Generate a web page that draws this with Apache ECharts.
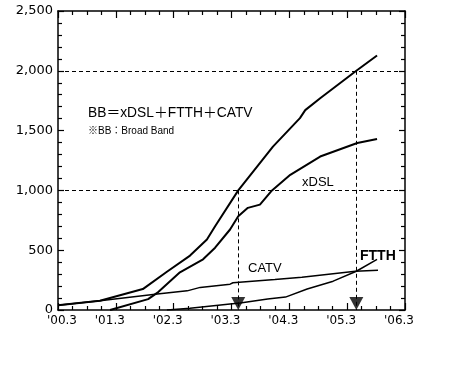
<!DOCTYPE html>
<html>
<head>
<meta charset="utf-8">
<script src="https://cdn.jsdelivr.net/npm/echarts@6/dist/echarts.min.js"></script>
<style>
html,body{margin:0;padding:0;background:#fff;}
#chart{width:450px;height:367px;}
</style>
</head>
<body>
<div id="chart"></div>
<script>
// x values are months counted from March 2000 ('00.3 = 0)
const xTickLabels = ["'00.3", "'01.3", "'02.3", "'03.3", "'04.3", "'05.3", "'06.3"];
const yTickLabels = ["0", "500", "1,000", "1,500", "2,000", "2,500"];

const bbMonths   = [0, 8.7, 17.6, 22.6, 27.4, 30.9, 32.6, 37.4, 44.6, 50.2, 51.3, 54.4, 61.9, 66.2];
const bbValues   = [40, 77, 175, 320, 455, 590, 700, 1000, 1366, 1604, 1671, 1770, 2000, 2128];

const xdslMonths = [10.8, 18.7, 20.8, 25.3, 30.1, 32.6, 35.7, 37.4, 39.4, 41.9, 44.4, 48.2, 54.4, 62.1, 66.2];
const xdslValues = [0, 91, 150, 315, 424, 521, 673, 784, 854, 881, 1000, 1130, 1283, 1396, 1430];

const catvMonths = [0, 8.7, 20.6, 26.8, 29.5, 35.7, 36.3, 45, 50.6, 61.7, 66.4];
const catvValues = [40, 77, 133, 160, 189, 216, 228, 255, 274, 324, 332];

const ftthMonths = [22.6, 27.4, 35.7, 37.8, 43.5, 47.2, 51.7, 57.1, 61.9, 66.2];
const ftthValues = [0, 14, 50, 58, 92, 108, 175, 241, 324, 424];

// milestone markers (BB reaching 1,000 and 2,000)
const milestoneMonths = [37.4, 61.9];
const milestoneLevels = [1000, 2000];
const markerValue = 55;

const guideLevels = [1000, 2000];

function pairs(xs, ys){ return xs.map((x,i)=>[x, ys[i]]); }

const FONT = "'Liberation Sans', 'Noto Sans CJK JP', Arial, sans-serif";
const TICKFONT = "'DejaVu Sans', sans-serif";
const chart = echarts.init(document.getElementById('chart'), null, {renderer:'canvas'});

const axisLineStyle = {color:'#000', width:1.5};
const tickStyle = {color:'#000', width:1.2};

function xAxisCfg(pos, showLabel){
  return {
    type:'value', position:pos, min:0, max:72, interval:12,
    axisLine:{show:true, onZero:false, lineStyle:axisLineStyle},
    axisTick:{show:true, inside:true, length:7, lineStyle:tickStyle},
    minorTick:{show:true, splitNumber:4, length:4, lineStyle:tickStyle},
    splitLine:{show:false},
    axisLabel:{
      show:showLabel, margin:5, color:'#000', fontFamily:TICKFONT, fontSize:12,
      formatter:function(v){
        const i = Math.round(v/12);
        return (i===0 ? '{a|' : '{b|') + xTickLabels[i] + '}';
      },
      rich:{
        a:{padding:[0,0,0,8], color:'#000', fontFamily:TICKFONT, fontSize:12},
        b:{padding:[0,12,0,0], color:'#000', fontFamily:TICKFONT, fontSize:12}
      }
    }
  };
}
function yAxisCfg(pos, showLabel){
  return {
    type:'value', position:pos, min:0, max:2500, interval:500,
    axisLine:{show:true, onZero:false, lineStyle:axisLineStyle},
    axisTick:{show:true, inside:true, length:6, lineStyle:tickStyle},
    minorTick:{show:true, splitNumber:5, length:4, lineStyle:tickStyle},
    splitLine:{show:false},
    axisLabel:{
      show:showLabel, margin:5, color:'#000', fontFamily:TICKFONT, fontSize:13,
      formatter:function(v){ return yTickLabels[Math.round(v/500)]; }
    }
  };
}

const lineBase = {type:'line', showSymbol:false, symbol:'none', smooth:false, animation:false, silent:true};

const option = {
  animation:false,
  backgroundColor:'#fff',
  grid:{left:58, right:45, top:11, bottom:57, containLabel:false},
  xAxis:[xAxisCfg('bottom', true), xAxisCfg('top', false)],
  yAxis:[yAxisCfg('left', true), yAxisCfg('right', false)],
  series:[
    Object.assign({}, lineBase, {
      name:'BB', data:pairs(bbMonths, bbValues),
      lineStyle:{color:'#000', width:2},
      markLine:{
        silent:true, symbol:['none','none'], animation:false,
        label:{show:false},
        lineStyle:{color:'#000', width:1, type:[4,3]},
        data: guideLevels.map(l=>({yAxis:l})).concat(
          milestoneMonths.map((m,i)=>[{coord:[m, milestoneLevels[i]]},{coord:[m, 0]}])
        )
      }
    }),
    Object.assign({}, lineBase, {name:'xDSL', data:pairs(xdslMonths, xdslValues), lineStyle:{color:'#000', width:2}}),
    Object.assign({}, lineBase, {name:'CATV', data:pairs(catvMonths, catvValues), lineStyle:{color:'#000', width:1.5}}),
    Object.assign({}, lineBase, {name:'FTTH', data:pairs(ftthMonths, ftthValues), lineStyle:{color:'#000', width:1.5}}),
    {
      type:'scatter', silent:true, animation:false,
      symbol:'triangle', symbolRotate:180, symbolSize:[14,13],
      itemStyle:{color:'#000'},
      data: milestoneMonths.map(m=>[m, markerValue])
    }
  ],
  graphic:[
    {type:'text', left:88, top:106, style:{text:'BB＝xDSL＋FTTH＋CATV', font:'13.8px ' + FONT, fill:'#000'}},
    {type:'text', left:88, top:126, style:{text:'※BB：Broad Band', font:'10px ' + FONT, fill:'#000'}},
    {type:'text', left:302, top:176, style:{text:'xDSL', font:'13px ' + FONT, fill:'#000'}},
    {type:'text', left:248, top:262, style:{text:'CATV', font:'13px ' + FONT, fill:'#000'}},
    {type:'text', left:360, top:249, style:{text:'FTTH', font:'bold 14px ' + FONT, fill:'#000'}}
  ]
};
chart.setOption(option);
</script>
</body>
</html>
